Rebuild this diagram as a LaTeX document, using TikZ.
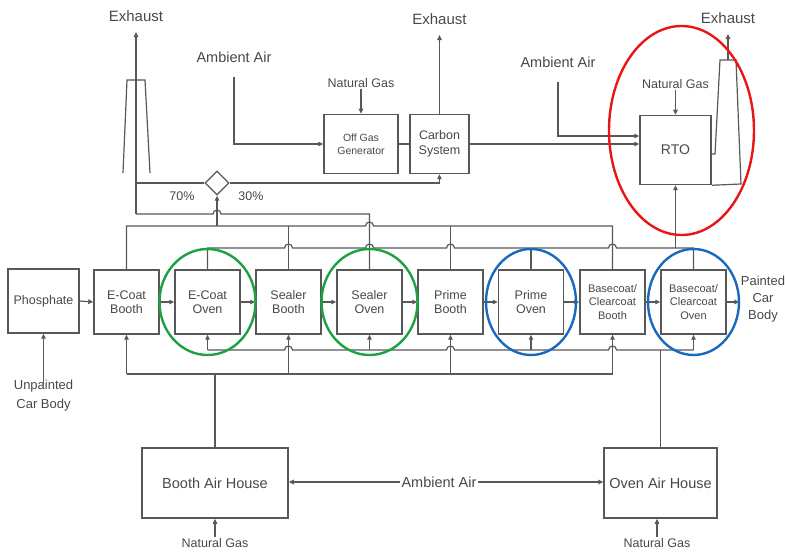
\documentclass[tikz,border=0pt]{standalone}
\usepackage{fontspec}
\setmainfont{Liberation Sans}
\usetikzlibrary{arrows.meta,shapes.geometric}
\definecolor{lineGray}{RGB}{88,88,88}
\definecolor{textGray}{RGB}{72,72,72}
\definecolor{ovenGreen}{RGB}{28,162,62}
\definecolor{ovenBlue}{RGB}{24,106,192}
\definecolor{rtoRed}{RGB}{232,22,22}

\begin{document}
\begin{tikzpicture}[x=1pt,y=-1pt, color=lineGray, text=textGray, line width=1.2pt,
  >={Triangle[length=5pt,width=4.5pt]},
  box/.style={draw, line width=1.5pt, minimum width=65pt, minimum height=64pt,
    inner sep=1pt, align=center, font=\fontsize{12.5}{14.5}\selectfont},
  bigtxt/.style={inner sep=1pt, font=\fontsize{14.5}{16}\selectfont},
  gastxt/.style={inner sep=1pt, font=\fontsize{12.5}{14}\selectfont},
  coatbox/.style={box, font=\fontsize{11}{13.5}\selectfont},
  ring/.style={line width=2.4pt}]
  \useasboundingbox (0,0) rectangle (785,553);

  % 1. process row
  \node[box, minimum width=71pt] (phos) at (43.5,301) {Phosphate};
  \node[box] (ecbooth) at (126.5,302) {E-Coat\\Booth};
  \node[box] (ecoven)  at (207.5,302) {E-Coat\\Oven};
  \node[box] (slbooth) at (288.5,302) {Sealer\\Booth};
  \node[box] (sloven)  at (369.5,302) {Sealer\\Oven};
  \node[box] (prbooth) at (450.5,302) {Prime\\Booth};
  \node[box] (proven)  at (531,302) {Prime\\Oven};
  \node[coatbox] (bcbooth) at (612.5,302) {Basecoat/\\Clearcoat\\Booth};
  \node[coatbox] (bcoven)  at (693.5,302) {Basecoat/\\Clearcoat\\Oven};
  \node[align=center, inner sep=1pt, font=\fontsize{13}{17}\selectfont] (painted) at (763,299) {Painted\\Car\\Body};
  \node[align=center, inner sep=1pt, font=\fontsize{13}{19}\selectfont] (unpainted) at (43.5,396) {Unpainted\\Car Body};

  \draw[->] (phos.east) -- (ecbooth.west);
  \draw[->] (ecbooth.east) -- (ecoven.west);
  \draw[->] (ecoven.east) -- (slbooth.west);
  \draw[->] (slbooth.east) -- (sloven.west);
  \draw[->] (sloven.east) -- (prbooth.west);
  \draw[->] (prbooth.east) -- (proven.west);
  \draw[->] (proven.east) -- (bcbooth.west);
  \draw[->] (bcbooth.east) -- (bcoven.west);
  \draw[->] (bcoven.east) -- (bcoven.east -| painted.west);
  \draw[->] ([yshift=-6pt]unpainted.north) -- (phos.south);

  % 2. exhaust side
  \coordinate (tline) at (0,214);
  \coordinate (bline) at (0,226);
  \coordinate (oline) at (0,248);
  \coordinate (stackfoot) at (136,214);
  \node[bigtxt, font=\fontsize{15}{16}\selectfont] (exh1) at (136,16) {Exhaust};
  \node[bigtxt, font=\fontsize{15}{16}\selectfont] (exh2) at (439.5,19) {Exhaust};
  \node[bigtxt, font=\fontsize{15}{16}\selectfont] (exh3) at (728,18) {Exhaust};
  \node[bigtxt] (amb1) at (234,57) {Ambient Air};
  \node[bigtxt] (amb2) at (558,62) {Ambient Air};
  \node[gastxt] (ng1) at (361,83) {Natural Gas};
  \node[gastxt] (ng2) at (675.5,84) {Natural Gas};
  \node[box, minimum width=74pt, minimum height=59pt, font=\fontsize{10.5}{13}\selectfont] (offgas) at (361,144) {Off Gas\\Generator};
  \node[box, minimum width=59pt, minimum height=59pt] (carbon) at (439.5,144) {Carbon\\System};
  \node[box, minimum width=71pt, minimum height=69pt, font=\fontsize{14}{16}\selectfont] (rto) at (675.5,150) {RTO};
  \node[diamond, draw, line width=1.3pt, minimum width=24pt, minimum height=24pt, inner sep=0pt] (split) at (217,183) {};
  \node[gastxt] (pct70) at (182,196) {70\%};
  \node[gastxt] (pct30) at (251,196) {30\%};

  \draw (123,173) -- (127,80) -- (145,80) -- (150,173);
  \draw[->, shorten >=9pt] (stackfoot) -- (exh1.south);
  \draw (split.west) -- (split.west -| stackfoot);
  \draw[->] (split.east) -| (carbon.south);
  \draw[->] (split.south |- bline) -- (split.south);
  \draw[->] ([yshift=-13pt]amb1.south) |- (offgas.west);
  \draw[->] (ng1.south) -- (offgas.north);
  \draw (offgas.east) -- (carbon.west);
  \draw[->, shorten >=9pt] (carbon.north) -- (exh2.south);
  \draw[->] (carbon.east) -- (carbon.east -| rto.west);
  \draw[->] ([yshift=-13pt]amb2.south) |- ([yshift=14pt]rto.west);
  \draw[->] (ng2.south) -- (rto.north);
  \draw ([yshift=-4pt]rto.east) -- (715,154) -- (720,60) -- (736,60) -- (741,184) -- (rto.south east);
  \draw[->, shorten >=9pt] (728,60) -- (exh3.south);

  % booth exhaust
  \draw (ecbooth.north) -- (ecbooth.north |- bline) -- (365.5,226)
    arc[start angle=180, end angle=0, radius=4pt] -- (bcbooth.north |- bline) -- (bcbooth.north);
  \draw (slbooth.north) -- (slbooth.north |- bline);
  \draw (prbooth.north) -- (prbooth.north |- bline);
  % oven exhaust
  \draw (ecoven.north) -- (ecoven.north |- oline) -- (284.5,248)
    arc[start angle=180, end angle=0, radius=4pt] -- (365.5,248)
    arc[start angle=180, end angle=0, radius=4pt] -- (446.5,248)
    arc[start angle=180, end angle=0, radius=4pt] -- (608.5,248)
    arc[start angle=180, end angle=0, radius=4pt] -- (bcoven.north |- oline) -- (bcoven.north);
  \draw (proven.north) -- (proven.north |- oline);
  \draw[->] (rto.south |- oline) -- (rto.south);
  \draw (sloven.north) -- (sloven.north |- tline) -- (221,214)
    arc[start angle=0, end angle=180, radius=4pt] -- (stackfoot);

  % 3. air houses
  \coordinate (osup) at (0,350);
  \coordinate (bsup) at (0,374);
  \node[box, minimum width=146pt, minimum height=70pt, font=\fontsize{14.5}{16}\selectfont] (boothah) at (215,483) {Booth Air House};
  \node[box, minimum width=113pt, minimum height=70pt, font=\fontsize{14.5}{16}\selectfont] (ovenah) at (660.5,483) {Oven Air House};
  \node[bigtxt] (ambb) at (439,482) {Ambient Air};
  \node[gastxt] (ng3) at (215,543) {Natural Gas};
  \node[gastxt] (ng4) at (657,543) {Natural Gas};

  \draw[->] (ambb.west) -- (ambb.west -| boothah.east);
  \draw[->] (ambb.east) -- (ambb.east -| ovenah.west);
  \draw[->] (ng3.north) -- (boothah.south);
  \draw[->] (ng4.north) -- (ng4.north |- ovenah.south);

  % booth supply
  \draw (ecbooth.south |- bsup) -- (bcbooth.south |- bsup);
  \draw (boothah.north) -- (boothah.north |- bsup);
  \draw[->] (ecbooth.south |- bsup) -- (ecbooth.south);
  \draw[->] (slbooth.south |- bsup) -- (slbooth.south);
  \draw[->] (prbooth.south |- bsup) -- (prbooth.south);
  \draw[->] (bcbooth.south |- bsup) -- (bcbooth.south);
  % oven supply
  \draw (ecoven.south |- osup) -- (284.5,350)
    arc[start angle=180, end angle=0, radius=4pt] -- (446.5,350)
    arc[start angle=180, end angle=0, radius=4pt] -- (608.5,350)
    arc[start angle=180, end angle=0, radius=4pt] -- (bcoven.south |- osup);
  \draw (ovenah.north) -- (ovenah.north |- osup);
  \draw[->] (ecoven.south |- osup) -- (ecoven.south);
  \draw[->] (sloven.south |- osup) -- (sloven.south);
  \draw[->] (proven.south |- osup) -- (proven.south);
  \draw[->] (bcoven.south |- osup) -- (bcoven.south);

  % 4. highlight rings
  \draw[ring, ovenGreen] (ecoven) ellipse [x radius=48, y radius=53];
  \draw[ring, ovenGreen] (sloven) ellipse [x radius=48, y radius=53];
  \draw[ring, ovenBlue] (proven) ellipse [x radius=45, y radius=53];
  \draw[ring, ovenBlue] (bcoven) ellipse [x radius=45.5, y radius=53];
  \draw[ring, rtoRed] (681.5,130.5) ellipse [x radius=72.5, y radius=104.5];
\end{tikzpicture}
\end{document}
